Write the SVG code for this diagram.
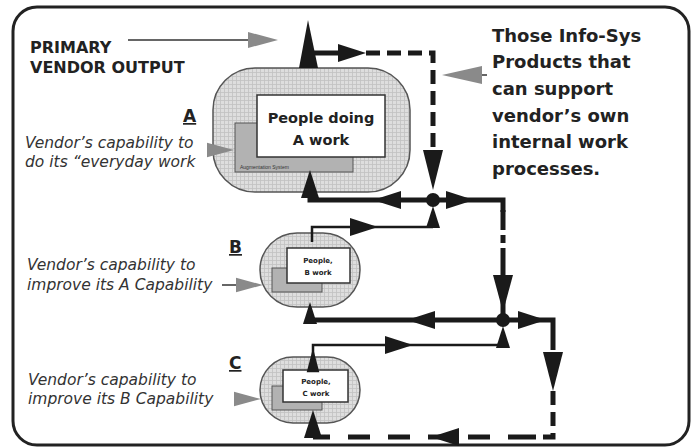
<svg xmlns="http://www.w3.org/2000/svg" width="695" height="448" viewBox="0 0 695 448">
<style>
.lbl{font-family:"DejaVu Sans",sans-serif;font-weight:bold;fill:#222}
.it{font-family:"DejaVu Sans",sans-serif;font-style:oblique;font-size:15.5px;fill:#333}
.cap{font-family:"DejaVu Sans",sans-serif;font-weight:bold;font-size:17px;fill:#222;text-decoration:underline}
.outer{fill:url(#grid);stroke:#555;stroke-width:1.5}
.aug{fill:#b2b2b2;stroke:#555;stroke-width:1}
.box{fill:#fff;stroke:#333;stroke-width:1.5}
.thick{fill:none;stroke:#1a1a1a;stroke-width:5}
.thin{fill:none;stroke:#1a1a1a;stroke-width:2.5}
.dash{fill:none;stroke:#1a1a1a;stroke-width:5;stroke-dasharray:14 7}
.dash2{fill:none;stroke:#1a1a1a;stroke-width:5;stroke-dasharray:22 18}
.ah{fill:#1a1a1a}
.gah{fill:#8a8a8a}
.gl{stroke:#666;stroke-width:2;fill:none}
</style>
<defs>
<pattern id="grid" width="4" height="4" patternUnits="userSpaceOnUse">
<rect width="4" height="4" fill="#dedede"/>
<path d="M0,0.5H4M0.5,0V4" stroke="#c2c2c2" stroke-width="0.8"/>
</pattern>
<path id="ah" d="M0,0 L-28,-9 L-28,9 Z"/>
<path id="ahs" d="M0,0 L-22,-7 L-22,7 Z"/>
<path id="gah" d="M0,0 L-30,-8 L-30,8 Z"/>
</defs>
<rect x="13" y="7" width="676" height="438" rx="24" fill="#fff" stroke="#222" stroke-width="3"/>

<g id="primary">
<text class="lbl" font-size="16" x="30" y="53">PRIMARY</text>
<text class="lbl" font-size="16" x="30" y="73">VENDOR  OUTPUT</text>
<line class="gl" x1="128" y1="40" x2="250" y2="40"/>
<use href="#gah" class="gah" transform="translate(278,40)"/>
</g>

<g id="infosys">
<text class="lbl" font-size="18" x="492" y="42">Those Info-Sys</text>
<text class="lbl" font-size="18" x="492" y="68">Products that</text>
<text class="lbl" font-size="18" x="492" y="95">can support</text>
<text class="lbl" font-size="18" x="492" y="122">vendor’s own</text>
<text class="lbl" font-size="18" x="492" y="148">internal work</text>
<text class="lbl" font-size="18" x="492" y="175">processes.</text>
<line class="gl" x1="470" y1="75" x2="487" y2="75"/>
<path class="gah" d="M442,75 L482,66 L482,84 Z"/>
</g>

<g id="nodeA">
<rect class="outer" x="213" y="68" width="197" height="124" rx="42"/>
<rect class="aug" x="235" y="123" width="118" height="49"/>
<text x="240" y="169" font-family="Liberation Sans,sans-serif" font-size="5" fill="#333">Augmentation System</text>
<rect class="box" x="257" y="95" width="128" height="62"/>
<text class="lbl" font-size="14.5" x="321" y="123" text-anchor="middle">People doing</text>
<text class="lbl" font-size="14.5" x="321" y="145" text-anchor="middle">A work</text>
<text class="cap" x="183" y="122">A</text>
<text class="it" x="25" y="148">Vendor’s capability to</text>
<text class="it" x="25" y="167">do its “everyday work</text>
<use href="#gah" class="gah" transform="translate(234,150) scale(0.9)"/>
</g>

<g id="nodeB">
<rect class="outer" x="260" y="233" width="100" height="74" rx="37"/>
<rect class="aug" x="272" y="268" width="50" height="24"/>
<rect class="box" x="287" y="248" width="63" height="35"/>
<text class="lbl" font-size="7" x="318" y="263" text-anchor="middle">People,</text>
<text class="lbl" font-size="7" x="318" y="275" text-anchor="middle">B work</text>
<text class="cap" x="229" y="253">B</text>
<text class="it" x="27" y="270">Vendor’s capability to</text>
<text class="it" x="27" y="290">improve its A Capability</text>
<line class="gl" x1="222" y1="285" x2="240" y2="285"/>
<use href="#gah" class="gah" transform="translate(263,285) scale(0.9)"/>
</g>

<g id="nodeC">
<rect class="outer" x="260" y="357" width="100" height="66" rx="33"/>
<rect class="aug" x="272" y="386" width="50" height="24"/>
<rect class="box" x="283" y="370" width="65" height="32"/>
<text class="lbl" font-size="7" x="316" y="384" text-anchor="middle">People,</text>
<text class="lbl" font-size="7" x="316" y="396" text-anchor="middle">C work</text>
<text class="cap" x="229" y="369">C</text>
<text class="it" x="28" y="385">Vendor’s capability to</text>
<text class="it" x="28" y="404">improve its B Capability</text>
<use href="#gah" class="gah" transform="translate(261,399) scale(0.9)"/>
</g>

<g id="connectors">
<path class="ah" d="M308,20 L299,68 L318,68 Z"/>
<path class="thick" d="M308,53 H342"/>
<use href="#ah" class="ah" transform="translate(366,53)"/>
<path class="dash" d="M366,53 H433 V150"/>
<path class="ah" d="M433,190 L423,150 L443,150 Z"/>
<circle cx="433" cy="200" r="7" fill="#1a1a1a"/>
<path class="thick" d="M433,200 H310 V190"/>
<use href="#ah" class="ah" transform="translate(373,200) rotate(180)"/>
<use href="#ah" class="ah" transform="translate(310,170) rotate(-90)"/>
<path class="thick" d="M433,200 H503 V212"/>
<use href="#ah" class="ah" transform="translate(474,200)"/>
<path class="thick" d="M503,210 V320" stroke-dasharray="20 5 8 5 100"/>
<path class="ah" d="M503,312 L493,275 L513,275 Z"/>
<path class="thin" d="M312,242 V227 H433"/>
<use href="#ah" class="ah" transform="translate(378,227)"/>
<use href="#ahs" class="ah" transform="translate(433,206) rotate(-90)"/>
<circle cx="503" cy="320" r="7" fill="#1a1a1a"/>
<path class="thick" d="M503,320 H310 V312"/>
<use href="#ah" class="ah" transform="translate(407,320) rotate(180)"/>
<use href="#ahs" class="ah" transform="translate(310,302) rotate(-90)"/>
<path class="thick" d="M503,320 H553 V350"/>
<use href="#ah" class="ah" transform="translate(546,320)"/>
<path class="ah" d="M553,391 L543,352 L563,352 Z"/>
<path class="dash" d="M553,391 V437 H530" stroke-dasharray="14 6"/>
<path class="dash2" d="M530,437 H313"/>
<use href="#ah" class="ah" transform="translate(431,437) rotate(180)"/>
<use href="#ah" class="ah" transform="translate(313,410) rotate(-90)"/>
<path class="thin" d="M313,372 V345 H503"/>
<use href="#ah" class="ah" transform="translate(413,345)"/>
<use href="#ahs" class="ah" transform="translate(503,326) rotate(-90)"/>
<use href="#ahs" class="ah" transform="translate(313,348) rotate(-90) scale(1.1,0.9)"/>
</g>
</svg>
